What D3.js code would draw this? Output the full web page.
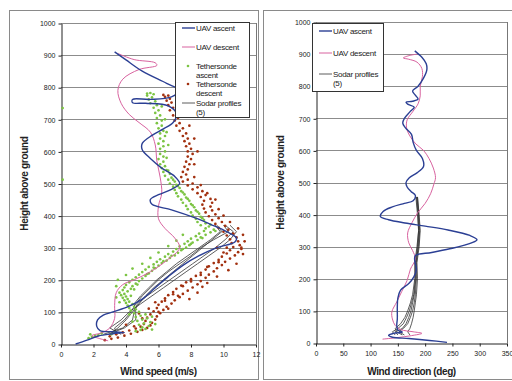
<!DOCTYPE html>
<html>
<head>
<meta charset="utf-8">
<script src="https://cdn.jsdelivr.net/npm/d3@7"></script>
<style>
  body { margin: 0; background: #fff; }
  svg { display: block; font-family: "Liberation Sans", Arial, sans-serif; }
</style>
</head>
<body>
<div id="data-viz"></div>
<script>
// ---- data ----
const heightTicks = [0, 100, 200, 300, 400, 500, 600, 700, 800, 900, 1000];
const speedTicks = [0, 2, 4, 6, 8, 10, 12];
const dirTicks = [0, 50, 100, 150, 200, 250, 300, 350];

// [wind speed m/s, height m]
const uavAscentSpeed = [
  [0.9, 0], [1.6, 12], [2.3, 25], [3.2, 32], [3.9, 36], [3.2, 38], [2.4, 42], [2.2, 55],
  [2.25, 75], [2.6, 90], [3.2, 100], [4.2, 118], [5.0, 140], [5.8, 175], [6.6, 210],
  [7.5, 245], [8.5, 275], [9.6, 300], [10.7, 318], [10.8, 330], [10.2, 350], [9.2, 373],
  [8.3, 392], [6.8, 418], [5.6, 435], [5.5, 450], [6.0, 465], [6.8, 482], [7.3, 500],
  [7.0, 522], [6.2, 548], [5.5, 578], [5.0, 605], [5.0, 625], [5.6, 650], [6.3, 670],
  [6.9, 690], [7.1, 718], [6.6, 742], [5.2, 750], [4.4, 752], [4.4, 762], [5.5, 762],
  [6.8, 770], [7.3, 790], [6.5, 812], [5.0, 850], [4.0, 885], [3.3, 910]
];
const uavDescentSpeed = [
  [2.9, 10], [2.3, 18], [1.9, 26], [2.5, 35], [3.0, 50], [3.3, 80], [3.3, 120], [3.4, 160],
  [3.8, 185], [4.5, 200], [5.5, 225], [6.5, 260], [7.3, 300], [7.0, 330], [6.4, 360],
  [6.0, 390], [6.0, 430], [6.2, 470], [6.1, 520], [5.9, 570], [5.8, 620], [5.5, 660],
  [4.8, 690], [4.2, 715], [3.7, 750], [3.5, 790], [3.8, 825], [4.8, 855], [5.9, 868],
  [5.8, 876], [4.5, 886], [3.5, 905]
];
const tetherAscent = [
  [1.7, 18], [1.9, 22], [2.1, 26], [1.8, 30], [2.3, 28], [2.5, 33], [3.1, 30], [3.3, 36],
  [4.6, 40], [4.9, 44], [5.2, 47], [5.0, 52], [5.4, 56], [4.8, 60], [5.1, 64], [5.5, 68],
  [4.7, 72], [5.0, 76], [5.3, 80], [4.6, 84], [4.9, 88], [5.2, 92], [4.5, 96], [4.8, 100],
  [4.3, 104], [4.6, 108], [4.2, 112], [4.5, 116], [4.1, 120], [4.4, 124], [4.0, 128],
  [4.2, 132], [3.9, 136], [4.1, 140], [3.8, 144], [4.0, 148], [3.7, 152], [3.9, 156],
  [3.6, 160], [4.1, 164], [3.8, 168], [4.3, 172], [3.9, 176], [4.4, 180], [4.0, 184],
  [4.6, 188], [4.2, 192], [4.8, 196], [4.4, 200], [5.0, 204], [4.6, 208], [5.2, 212],
  [4.8, 216], [5.4, 220], [5.0, 224], [5.6, 228], [5.2, 232], [5.8, 236], [5.4, 240],
  [6.0, 244], [5.7, 248], [6.2, 252], [5.9, 256], [6.5, 260], [6.1, 264], [6.7, 268],
  [6.4, 272], [7.0, 276], [6.6, 280], [7.2, 284], [6.9, 288], [7.4, 292], [7.1, 296],
  [7.7, 300], [7.3, 304], [7.9, 308], [7.6, 312], [8.1, 316], [7.8, 320], [8.4, 324],
  [8.0, 328], [8.6, 332], [8.3, 336], [8.9, 340], [8.5, 344], [9.2, 348], [8.8, 352],
  [9.4, 356], [8.9, 360], [9.1, 366], [8.6, 370], [8.9, 376], [8.4, 380], [8.8, 386],
  [8.3, 390], [8.6, 396], [8.1, 400], [8.5, 406], [8.0, 410], [8.3, 416], [7.8, 420],
  [8.2, 426], [7.7, 430], [8.0, 436], [7.5, 440], [7.9, 446], [7.4, 450], [7.7, 456],
  [7.2, 460], [7.6, 466], [7.1, 470], [7.4, 476], [7.0, 480], [7.3, 486], [6.9, 490],
  [7.1, 496], [6.7, 500], [7.0, 506], [6.6, 512], [6.8, 518], [6.4, 524], [6.7, 530],
  [6.3, 536], [6.5, 542], [6.2, 548], [6.4, 554], [6.1, 560], [6.3, 568], [6.0, 576],
  [6.3, 584], [6.1, 592], [6.4, 600], [6.1, 608], [6.3, 616], [6.0, 624], [6.3, 632],
  [6.1, 640], [6.4, 648], [6.1, 656], [6.3, 664], [6.0, 672], [6.2, 680], [5.9, 688],
  [6.2, 696], [5.9, 704], [6.1, 712], [5.8, 720], [6.0, 728], [5.7, 736], [5.9, 744],
  [5.5, 750], [5.8, 756], [5.4, 762], [5.6, 768], [5.3, 774], [5.7, 778], [5.5, 782],
  [5.3, 780], [0.1, 735], [0.1, 512],
  [4.3, 150], [4.5, 170], [4.7, 185], [5.3, 218], [5.7, 238], [6.3, 258], [6.8, 275],
  [7.5, 296], [8.0, 312], [8.7, 330], [9.5, 352], [9.2, 372], [8.7, 392], [8.4, 412],
  [8.1, 432], [7.8, 452], [7.5, 472], [7.2, 492], [6.9, 512], [6.6, 540], [6.5, 580],
  [6.6, 620], [6.5, 660], [6.4, 700], [6.2, 740], [3.4, 180], [3.5, 200], [4.0, 215],
  [4.4, 235], [5.0, 250], [5.5, 268], [6.0, 285], [6.6, 305], [7.1, 322], [7.5, 340],
  [5.6, 45], [5.8, 62], [4.4, 70], [5.6, 85], [4.2, 92], [3.6, 130], [3.4, 145]
];
const tetherDescent = [
  [2.7, 12], [3.1, 16], [3.5, 20], [3.0, 24], [3.9, 26], [3.4, 30], [4.3, 32], [3.8, 36],
  [4.7, 38], [4.2, 42], [5.0, 44], [4.6, 48], [5.3, 50], [4.9, 54], [5.5, 58], [5.1, 62],
  [5.6, 66], [5.2, 72], [5.8, 76], [5.3, 82], [5.9, 86], [5.5, 92], [6.1, 96], [5.7, 102],
  [6.3, 106], [5.9, 112], [6.5, 116], [6.0, 122], [6.8, 126], [6.2, 132], [7.0, 136],
  [6.4, 142], [7.3, 146], [6.6, 152], [7.5, 156], [6.9, 162], [7.8, 166], [7.1, 172],
  [8.1, 176], [7.4, 182], [8.4, 186], [7.7, 192], [8.6, 196], [8.0, 202], [8.9, 206],
  [8.3, 212], [9.1, 216], [8.6, 222], [9.4, 226], [8.9, 232], [9.6, 236], [9.1, 242],
  [9.9, 246], [9.4, 252], [10.1, 256], [9.7, 262], [10.4, 266], [9.9, 272], [10.7, 276],
  [10.2, 282], [10.9, 286], [10.4, 292], [11.1, 296], [10.6, 302], [11.0, 308], [10.5, 314],
  [10.9, 320], [10.4, 326], [10.8, 332], [10.2, 338], [10.6, 344], [10.0, 350], [10.3, 356],
  [9.7, 362], [10.1, 368], [9.5, 374], [9.9, 380], [9.3, 386], [9.7, 392], [9.1, 398],
  [9.5, 404], [8.9, 410], [9.3, 416], [8.8, 422], [9.2, 428], [8.7, 434], [9.3, 440],
  [8.8, 446], [9.2, 452], [8.6, 458], [8.9, 464], [8.4, 470], [8.7, 476], [8.1, 482],
  [8.4, 488], [7.8, 494], [8.1, 500], [7.5, 506], [7.8, 512], [7.4, 520], [7.7, 528],
  [7.5, 536], [7.8, 544], [7.6, 552], [7.9, 560], [7.7, 568], [8.0, 576], [7.8, 584],
  [8.1, 592], [7.8, 600], [8.0, 608], [7.7, 616], [7.9, 624], [7.6, 632], [7.8, 640],
  [7.5, 648], [7.7, 656], [7.3, 664], [7.5, 672], [7.1, 680], [7.3, 688], [7.0, 696],
  [7.2, 704], [6.9, 712], [7.1, 720], [6.7, 728], [6.9, 736], [6.6, 744], [6.8, 752],
  [6.5, 758], [6.7, 764], [6.4, 770], [6.6, 774], [6.3, 776],
  [8.7, 178], [9.0, 190], [9.6, 210], [10.3, 230], [10.8, 250], [11.2, 280], [11.1, 300],
  [7.9, 140], [8.4, 160], [6.0, 100], [5.8, 130], [6.6, 110], [7.2, 150],
  [4.5, 55], [4.0, 60], [5.0, 80], [4.8, 95], [5.4, 110], [6.4, 135], [6.9, 155],
  [7.5, 180], [8.0, 195], [8.6, 215], [9.0, 240], [9.7, 255], [10.0, 285], [9.6, 300],
  [10.2, 300], [11.3, 320], [11.2, 340], [10.9, 360], [10.4, 380], [10.0, 400],
  [9.7, 420], [9.5, 450], [9.0, 470], [8.6, 495], [8.2, 520], [8.2, 560], [8.4, 600],
  [8.2, 640], [7.9, 680], [7.5, 720], [7.2, 750]
];

// sodar profiles (5): one height list, five speed lists
const sodarHeightsL = [30, 50, 75, 100, 125, 150, 175, 200, 225, 250, 275, 300, 325, 350, 370];
const sodarSpeed = [
  [3.0, 3.5, 4.0, 4.4, 4.8, 5.2, 5.7, 6.3, 6.9, 7.5, 8.1, 8.7, 9.3, 9.9, 9.6],
  [3.4, 3.3, 3.9, 4.3, 4.6, 5.0, 5.5, 6.0, 6.6, 7.3, 8.0, 8.6, 9.4, 10.3, 10.0],
  [2.6, 3.8, 4.4, 4.5, 4.7, 5.3, 6.0, 6.7, 7.4, 8.1, 8.8, 9.5, 10.1, 10.6, 10.1],
  [3.7, 3.0, 3.7, 4.2, 4.9, 5.6, 6.3, 7.0, 7.7, 8.4, 9.1, 9.8, 10.4, 10.8, 10.4],
  [2.9, 3.9, 4.6, 4.6, 4.5, 4.9, 5.4, 5.9, 6.5, 7.1, 7.8, 8.5, 9.2, 9.8, 9.5]
];

// [wind direction deg, height m]
const uavAscentDir = [
  [240, 2], [208, 8], [170, 14], [140, 18], [133, 24], [142, 30], [158, 34], [150, 40],
  [148, 55], [149, 75], [149, 112], [150, 140], [155, 165], [170, 185], [179, 205],
  [184, 230], [181, 255], [182, 272], [212, 282], [250, 295], [285, 312], [295, 322],
  [282, 335], [242, 352], [200, 364], [163, 374], [133, 384], [118, 394], [123, 410],
  [140, 424], [162, 435], [178, 443], [182, 460], [174, 472], [167, 486], [165, 500],
  [171, 515], [185, 530], [197, 550], [195, 575], [184, 600], [178, 625], [175, 650],
  [164, 670], [159, 685], [162, 700], [172, 720], [180, 735], [168, 744], [165, 750],
  [177, 753], [187, 760], [182, 772], [177, 785], [187, 800], [197, 825], [203, 850],
  [202, 870], [194, 890], [181, 910]
];
const uavDescentDir = [
  [122, 12], [150, 17], [175, 23], [194, 30], [178, 35], [155, 42], [145, 55], [140, 75],
  [139, 97], [148, 128], [157, 160], [167, 195], [173, 230], [182, 262], [177, 288],
  [170, 312], [168, 343], [176, 375], [186, 405], [200, 435], [210, 465], [216, 495],
  [219, 515], [215, 545], [207, 575], [197, 600], [183, 620], [172, 645], [166, 670],
  [167, 695], [177, 720], [187, 745], [191, 770], [191, 800], [195, 830], [194, 855],
  [185, 875], [170, 884], [160, 888], [172, 896], [186, 900]
];
const sodarHeightsR = [25, 35, 45, 60, 80, 100, 125, 150, 200, 250, 300, 350, 400, 455];
const sodarDir = [
  [150, 145, 158, 165, 170, 174, 177, 180, 183, 184, 187, 189, 188, 186],
  [162, 152, 160, 168, 173, 177, 180, 182, 184, 183, 188, 190, 188, 185],
  [145, 140, 150, 160, 166, 171, 175, 179, 182, 182, 186, 188, 187, 184],
  [172, 168, 172, 175, 178, 180, 182, 184, 186, 185, 189, 191, 189, 186],
  [158, 148, 145, 155, 163, 168, 173, 177, 181, 181, 185, 188, 186, 183]
];

// ---- colours ----
const blue = '#2b3f94';
const pink = '#d8629f';
const green = '#7cc443';
const brown = '#a2300f';
const sodarCol = '#333';

const svg = d3.select('#data-viz')
  .append('svg')
  .attr('width', 512)
  .attr('height', 381);

// outer chart frames
svg.append('rect').attr('x', 9.5).attr('y', 10.5).attr('width', 249).attr('height', 369)
  .attr('fill', 'none').attr('stroke', '#8a8a8a');
svg.append('rect').attr('x', 263.5).attr('y', 10.5).attr('width', 260).attr('height', 369)
  .attr('fill', 'none').attr('stroke', '#8a8a8a');

// builds one panel: scales, grid, axes and titles
function panel(x0, x1, y0, y1, xDomain, xTicks, xTitle, yTitleX) {
  const x = d3.scaleLinear().domain(xDomain).range([x0, x1]);
  const y = d3.scaleLinear().domain([0, 1000]).range([y1, y0]);
  const g = svg.append('g');

  // horizontal gridlines
  g.selectAll('.grid')
    .data(heightTicks.slice(1))
    .enter()
    .append('line')
    .attr('x1', x0).attr('x2', x1)
    .attr('y1', d => Math.round(y(d)) + 0.5)
    .attr('y2', d => Math.round(y(d)) + 0.5)
    .attr('stroke', '#8c8c8c');

  // plot area border (right side)
  g.append('line').attr('x1', x1 + 0.5).attr('x2', x1 + 0.5).attr('y1', y0).attr('y2', y1)
    .attr('stroke', '#777');

  const yAxis = g.append('g')
    .attr('transform', 'translate(' + (x0 + 0.5) + ',0.5)')
    .call(d3.axisLeft(y).tickValues(heightTicks).tickFormat(d3.format('d'))
      .tickSize(3).tickSizeOuter(0));
  const xAxis = g.append('g')
    .attr('transform', 'translate(0,' + (Math.round(y1) + 0.5) + ')')
    .call(d3.axisBottom(x).tickValues(xTicks).tickFormat(d3.format('d'))
      .tickSize(3).tickSizeOuter(0));
  [xAxis, yAxis].forEach(a => {
    a.selectAll('path, line').attr('stroke', '#222');
    a.selectAll('text').attr('font-size', 7).attr('fill', '#222')
      .attr('font-family', '"Liberation Sans", Arial, sans-serif');
  });
  xAxis.selectAll('text').attr('dy', '0.95em');

  g.append('text')
    .attr('x', (x0 + x1) / 2).attr('y', 375)
    .attr('text-anchor', 'middle')
    .attr('font-size', 10).attr('font-weight', 'bold').attr('fill', '#222')
    .attr('letter-spacing', -0.4)
    .text(xTitle);
  g.append('text')
    .attr('transform', 'translate(' + yTitleX + ',' + (y0 + y1) / 2 + ') rotate(-90)')
    .attr('text-anchor', 'middle')
    .attr('font-size', 10).attr('font-weight', 'bold').attr('fill', '#222')
    .attr('letter-spacing', -0.3)
    .text('Height above ground');

  return {x, y, g};
}

// ---- left panel: wind speed ----
const L = panel(61, 256, 23, 344, [0, 12], speedTicks, 'Wind speed (m/s)', 28);
const lineL = d3.line().x(d => L.x(d[0])).y(d => L.y(d[1]));

sodarSpeed.forEach(p => {
  L.g.append('path')
    .datum(p.map((s, i) => [s, sodarHeightsL[i]]))
    .attr('d', lineL)
    .attr('fill', 'none').attr('stroke', sodarCol).attr('stroke-width', 0.8);
});

L.g.selectAll('.tdesc')
  .data(tetherDescent)
  .enter()
  .append('circle')
  .attr('cx', d => L.x(d[0])).attr('cy', d => L.y(d[1]))
  .attr('r', 1.35).attr('fill', brown);

L.g.selectAll('.tasc')
  .data(tetherAscent)
  .enter()
  .append('circle')
  .attr('cx', d => L.x(d[0])).attr('cy', d => L.y(d[1]))
  .attr('r', 1.35).attr('fill', green);

L.g.append('path').datum(uavDescentSpeed)
  .attr('d', lineL.curve(d3.curveCatmullRom))
  .attr('fill', 'none').attr('stroke', pink).attr('stroke-width', 1);
L.g.append('path').datum(uavAscentSpeed)
  .attr('d', lineL.curve(d3.curveCatmullRom))
  .attr('fill', 'none').attr('stroke', blue).attr('stroke-width', 1.4);

// ---- right panel: wind direction ----
const R = panel(316, 507, 22, 343, [0, 350], dirTicks, 'Wind direction (deg)', 284);
const lineR = d3.line().x(d => R.x(d[0])).y(d => R.y(d[1]));

sodarDir.forEach(p => {
  R.g.append('path')
    .datum(p.map((s, i) => [s, sodarHeightsR[i]]))
    .attr('d', lineR)
    .attr('fill', 'none').attr('stroke', sodarCol).attr('stroke-width', 0.8);
});
R.g.append('path').datum(uavDescentDir)
  .attr('d', lineR.curve(d3.curveCatmullRom))
  .attr('fill', 'none').attr('stroke', pink).attr('stroke-width', 1);
R.g.append('path').datum(uavAscentDir)
  .attr('d', lineR.curve(d3.curveCatmullRom))
  .attr('fill', 'none').attr('stroke', blue).attr('stroke-width', 1.4);

// ---- legends ----
function legend(x, y, w, h, items) {
  const lg = svg.append('g');
  lg.append('rect').attr('x', x + 0.5).attr('y', y + 0.5).attr('width', w).attr('height', h)
    .attr('fill', '#fff').attr('stroke', '#333');
  items.forEach(it => {
    if (it.type === 'line') {
      lg.append('line').attr('x1', x + 7).attr('x2', x + 20).attr('y1', it.y).attr('y2', it.y)
        .attr('stroke', it.color).attr('stroke-width', it.w);
    } else if (it.type === 'dot') {
      lg.append('circle').attr('cx', x + 13).attr('cy', it.y).attr('r', 1.3).attr('fill', it.color);
    }
    it.text.forEach((t, i) => {
      lg.append('text').attr('x', x + 21).attr('y', it.y + 3 + i * 8.5)
        .attr('font-size', 8).attr('fill', '#222').attr('letter-spacing', -0.3)
        .text(t);
    });
  });
}

legend(175, 22, 74, 95, [
  {type: 'line', color: blue, w: 1.4, y: 28, text: ['UAV ascent']},
  {type: 'line', color: pink, w: 1, y: 47, text: ['UAV descent']},
  {type: 'dot', color: green, y: 66, text: ['Tethersonde', 'ascent']},
  {type: 'dot', color: brown, y: 84, text: ['Tethersonde', 'descent']},
  {type: 'line', color: sodarCol, w: 0.8, y: 103, text: ['Sodar profiles', '(5)']}
]);

legend(312, 23, 71, 68, [
  {type: 'line', color: blue, w: 1.4, y: 31, text: ['UAV ascent']},
  {type: 'line', color: pink, w: 1, y: 53, text: ['UAV descent']},
  {type: 'line', color: sodarCol, w: 0.8, y: 74, text: ['Sodar profiles', '(5)']}
]);
</script>
</body>
</html>
